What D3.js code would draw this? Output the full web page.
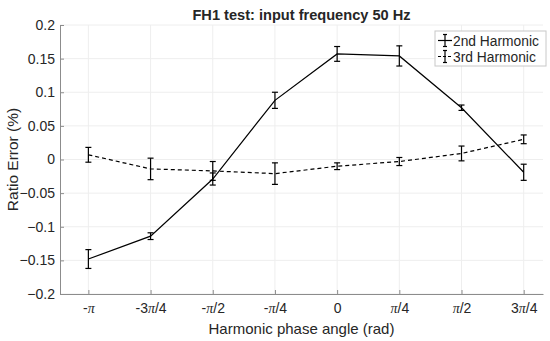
<!DOCTYPE html>
<html>
<head>
<meta charset="utf-8">
<script src="https://cdn.jsdelivr.net/npm/d3@7"></script>
<style>
body{margin:0;background:#fff;}
text{font-family:"Liberation Sans",Arial,sans-serif;fill:#262626;}
.pi{font-family:"Liberation Serif","DejaVu Serif",serif;font-style:italic;}
</style>
</head>
<body>
<div id="chart"></div>
<script>
// phase angles in multiples of pi/4
var phaseQuarters = [-4,-3,-2,-1,0,1,2,3];
var tickLabels = ["-π","-3π/4","-π/2","-π/4","0","π/4","π/2","3π/4"];
var yTicks = [-0.2,-0.15,-0.1,-0.05,0,0.05,0.1,0.15,0.2];
var seriesNames = ["2nd Harmonic","3rd Harmonic"];
var h2 = [-0.148,-0.114,-0.029,0.088,0.157,0.154,0.077,-0.019];
var h2err = [0.014,0.005,0.009,0.012,0.011,0.015,0.004,0.012];
var h3 = [0.007,-0.014,-0.017,-0.021,-0.010,-0.003,0.009,0.030];
var h3err = [0.011,0.016,0.014,0.016,0.005,0.006,0.011,0.0065];

var W = 550, H = 341;
var margin = {left:60, right:7, top:25, bottom:47};
var pw = W-margin.left-margin.right, ph = H-margin.top-margin.bottom;

var svg = d3.select('#chart').append('svg')
	.attr('width',W).attr('height',H);
var g = svg.append('g').attr('transform','translate('+margin.left+','+margin.top+')');

var x = d3.scaleLinear().domain([-3.5,2.6]).range([0,pw]);
var y = d3.scaleLinear().domain([-0.2,0.2]).range([ph,0]);
var xTicks = phaseQuarters.map(function(q){ return q*Math.PI/4; });

// grid
g.selectAll('.gx').data(xTicks).enter().append('line')
	.attr('x1',function(d){return x(d);}).attr('x2',function(d){return x(d);})
	.attr('y1',0).attr('y2',ph)
	.attr('stroke','#eeeeee').attr('stroke-width',1);
g.selectAll('.gy').data(yTicks).enter().append('line')
	.attr('x1',0).attr('x2',pw)
	.attr('y1',function(d){return y(d);}).attr('y2',function(d){return y(d);})
	.attr('stroke','#eeeeee').attr('stroke-width',1);

// axes
var xAxis = d3.axisBottom(x).tickValues(xTicks).tickSizeInner(-4).tickSizeOuter(0)
	.tickPadding(9).tickFormat(function(d,i){return tickLabels[i];});
var gx = g.append('g').attr('transform','translate(0,'+ph+')').call(xAxis);
var yAxis = d3.axisLeft(y).tickValues(yTicks).tickSizeInner(-4).tickSizeOuter(0)
	.tickPadding(5).tickFormat(function(d){return d===0?'0':d3.format('')(+d.toFixed(2));});
var gy = g.append('g').call(yAxis);
[gx,gy].forEach(function(a){
	a.select('.domain').attr('stroke','#8c8c8c');
	a.selectAll('.tick line').attr('stroke','#8c8c8c');
	a.selectAll('.tick text').attr('font-size',14).attr('fill','#262626')
		.style('font-family','"Liberation Sans",Arial,sans-serif');
});
// pi glyphs in serif italic
gx.selectAll('.tick text').each(function(d,i){
	var t = d3.select(this), s = tickLabels[i];
	t.text(null);
	var parts = s.split('π');
	t.append('tspan').text(parts[0]);
	if(parts.length>1){
		t.append('tspan').attr('class','pi').text('π');
		t.append('tspan').text(parts[1]);
	}
});

// series
var series = [
	{name:seriesNames[0], vals:h2, err:h2err, dash:null},
	{name:seriesNames[1], vals:h3, err:h3err, dash:'4,3'}
];
var line = d3.line().x(function(d){return x(d.x);}).y(function(d){return y(d.y);});
var cap = 3;
series.forEach(function(s){
	var pts = s.vals.map(function(v,i){return {x:xTicks[i], y:v, e:s.err[i]};});
	g.append('path').datum(pts).attr('d',line)
		.attr('fill','none').attr('stroke','#000').attr('stroke-width',1.2)
		.attr('stroke-dasharray',s.dash);
	var eb = g.selectAll(null).data(pts).enter().append('g');
	eb.append('line')
		.attr('x1',function(d){return x(d.x);}).attr('x2',function(d){return x(d.x);})
		.attr('y1',function(d){return y(d.y-d.e);}).attr('y2',function(d){return y(d.y+d.e);})
		.attr('stroke','#000').attr('stroke-width',1.2);
	[-1,1].forEach(function(sg){
		eb.append('line')
			.attr('x1',function(d){return x(d.x)-cap;}).attr('x2',function(d){return x(d.x)+cap;})
			.attr('y1',function(d){return y(d.y+sg*d.e);}).attr('y2',function(d){return y(d.y+sg*d.e);})
			.attr('stroke','#000').attr('stroke-width',1.2);
	});
});

// title & labels
svg.append('text').attr('x',margin.left+pw/2).attr('y',20).attr('text-anchor','middle')
	.attr('font-size',14.6).attr('font-weight','bold').attr('fill','#000')
	.text('FH1 test: input frequency 50 Hz');
svg.append('text').attr('x',margin.left+pw/2).attr('y',334).attr('text-anchor','middle')
	.attr('font-size',15).text('Harmonic phase angle (rad)');
svg.append('text').attr('transform','translate(18,'+(margin.top+ph/2)+') rotate(-90)')
	.attr('text-anchor','middle').attr('font-size',15.5).text('Ratio Error (%)');

// legend
var lg = svg.append('g').attr('transform','translate(435,31)');
lg.append('rect').attr('width',111).attr('height',35)
	.attr('fill','#fff').attr('stroke','#c8c8c8').attr('stroke-width',1);
series.forEach(function(s,i){
	var cy = 9.5+i*16;
	lg.append('line').attr('x1',3).attr('x2',17).attr('y1',cy).attr('y2',cy)
		.attr('stroke','#000').attr('stroke-width',1.2).attr('stroke-dasharray',s.dash?'3,2':null);
	lg.append('line').attr('x1',10).attr('x2',10).attr('y1',cy-6).attr('y2',cy+6)
		.attr('stroke','#000').attr('stroke-width',1.2);
	[-6,6].forEach(function(o){
		lg.append('line').attr('x1',8).attr('x2',12).attr('y1',cy+o).attr('y2',cy+o)
			.attr('stroke','#000').attr('stroke-width',1.2);
	});
	lg.append('text').attr('x',18).attr('y',cy+5).attr('font-size',13.8).text(s.name);
});
</script>
</body>
</html>
